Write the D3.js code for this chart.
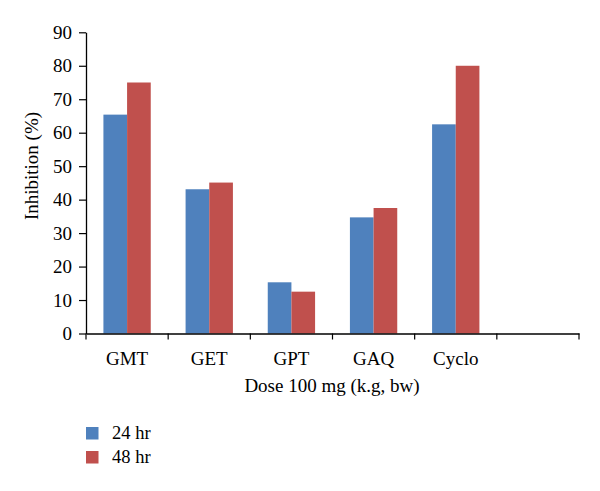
<!DOCTYPE html>
<html>
<head>
<meta charset="utf-8">
<script src="https://cdn.jsdelivr.net/npm/d3@7"></script>
<style>
  body { margin: 0; background: #fff; }
  text { font-family: "Liberation Serif", "DejaVu Serif", serif; fill: #000; }
</style>
</head>
<body>
<svg id="chart" width="600" height="491"></svg>
<script>
const categories = ["GMT", "GET", "GPT", "GAQ", "Cyclo", ""];
const seriesNames = ["24 hr", "48 hr"];
const values24 = [65.4, 43.1, 15.3, 34.7, 62.5, null];
const values48 = [75.0, 45.1, 12.5, 37.5, 80.0, null];
const yTicks = [0, 10, 20, 30, 40, 50, 60, 70, 80, 90];
const colors = ["#4F81BD", "#C0504D"];

const svg = d3.select("#chart");
const mLeft = 86, mRight = 579, mTop = 32.3, mBottom = 333.5;

const x = d3.scaleBand().domain(categories.map((c, i) => i)).range([mLeft, mRight]).paddingInner(0).paddingOuter(0);
const y = d3.scaleLinear().domain([0, 90]).range([mBottom, mTop]);
const groupW = x.bandwidth() * 0.576;
const xs = d3.scaleBand().domain([0, 1]).range([0, groupW]);

const rows = categories.map((c, i) => ({ i, v: [values24[i], values48[i]] }));

const g = svg.append("g");
rows.forEach(r => {
  r.v.forEach((v, s) => {
    if (v == null) return;
    g.append("rect")
      .attr("x", x(r.i) + (x.bandwidth() - groupW) / 2 + xs(s))
      .attr("width", xs.bandwidth())
      .attr("y", y(v))
      .attr("height", y(0) - y(v))
      .attr("fill", colors[s]);
  });
});

// Y axis
const yAxis = svg.append("g").attr("transform", `translate(${mLeft},0)`)
  .call(d3.axisLeft(y).tickValues(yTicks).tickSize(7).tickPadding(7).tickSizeOuter(0));
yAxis.select(".domain").attr("stroke", "#000").attr("stroke-width", 1.3);
yAxis.selectAll(".tick line").attr("stroke", "#000").attr("stroke-width", 1.2);
yAxis.selectAll("text").style("font-size", "19px").style("font-family", "Liberation Serif, serif");

// X axis
const xAxis = svg.append("g").attr("transform", `translate(0,${mBottom})`)
  .call(d3.axisBottom(x).tickValues([]).tickSizeOuter(0));
xAxis.select(".domain").attr("stroke", "#000").attr("stroke-width", 1.3);
const bounds = categories.map((c, i) => x(i)).concat([mRight]);
xAxis.selectAll(".bt").data(bounds).enter().append("line")
  .attr("x1", d => d).attr("x2", d => d).attr("y1", 0).attr("y2", 6)
  .attr("stroke", "#000").attr("stroke-width", 1.2);
xAxis.selectAll(".cl").data(categories).enter().append("text")
  .attr("x", (d, i) => x(i) + x.bandwidth() / 2)
  .attr("y", 31)
  .attr("text-anchor", "middle")
  .style("font-size", "19px")
  .text(d => d);

// Axis titles
svg.append("text")
  .attr("transform", "translate(38,166) rotate(-90)")
  .attr("text-anchor", "middle")
  .style("font-size", "19px")
  .text("Inhibition (%)");
svg.append("text")
  .attr("x", 332).attr("y", 392)
  .attr("text-anchor", "middle")
  .style("font-size", "19px")
  .text("Dose 100 mg (k.g, bw)");

// Legend
const leg = svg.append("g");
seriesNames.forEach((n, i) => {
  leg.append("rect").attr("x", 86).attr("y", 427 + i * 24).attr("width", 12.5).attr("height", 12.5).attr("fill", colors[i]);
  leg.append("text").attr("x", 112).attr("y", 439 + i * 24).style("font-size", "18.5px").text(n);
});
</script>
</body>
</html>
